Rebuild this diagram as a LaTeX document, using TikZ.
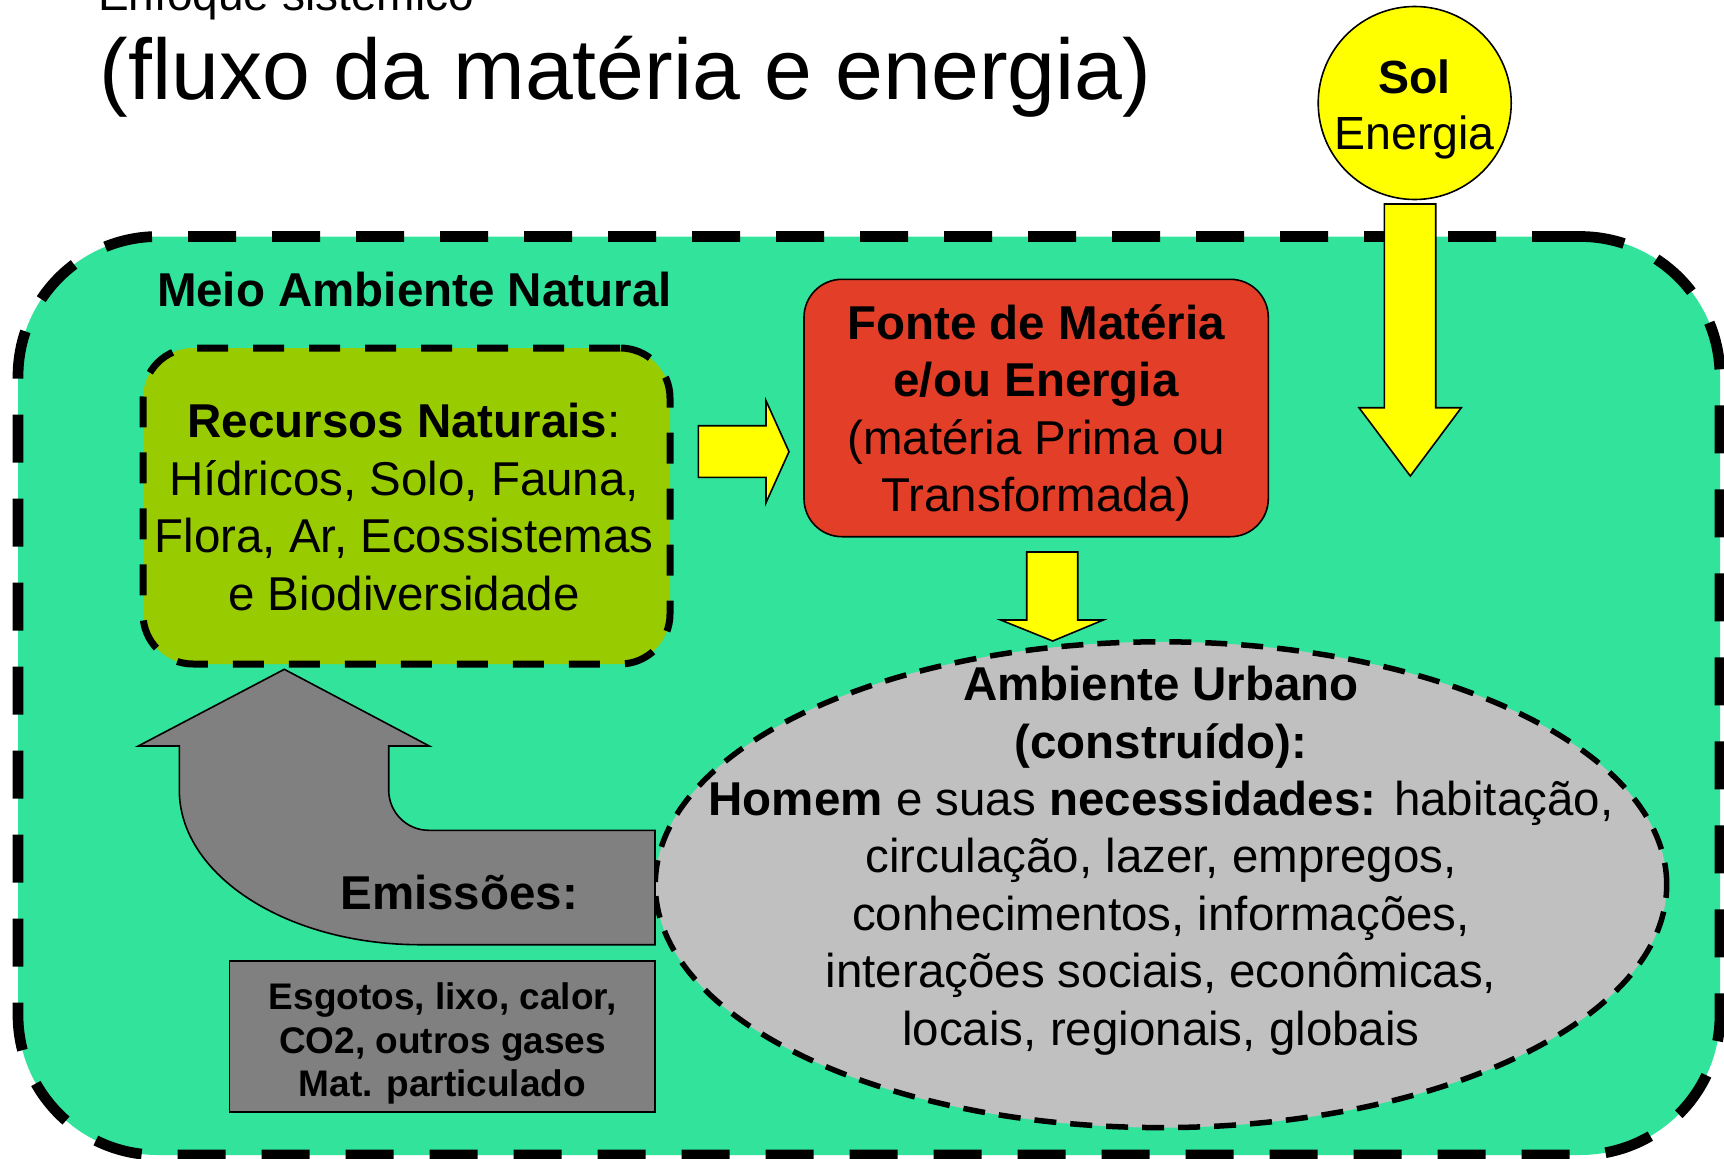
\documentclass[tikz,border=0pt]{standalone}
\usepackage{fontspec}
\setmainfont{Liberation Sans}
\usetikzlibrary{shapes.geometric}
\definecolor{natgreen}{RGB}{50,227,155}
\definecolor{resgreen}{RGB}{153,204,0}
\definecolor{fontered}{RGB}{226,62,40}
\definecolor{sunyellow}{RGB}{255,255,0}
\definecolor{emgray}{RGB}{128,128,128}
\definecolor{urbgray}{RGB}{192,192,192}
\begin{document}
\begin{tikzpicture}[x=1pt,y=-1pt,
  big/.style={font=\fontsize{47.5}{57.4}\selectfont, align=center, inner sep=0pt, outer sep=0pt},
  thinline/.style={draw=black, line width=1.6pt},
  yarrow/.style={fill=sunyellow, draw=black, line width=1.6pt, line join=miter},
  shapebox/.style={inner sep=0pt, outer sep=0pt},
]
\useasboundingbox (0,0) rectangle (1724,1159);

% titles
\node[anchor=base west, inner sep=0pt, font=\fontsize{46}{55}\selectfont] (suptitle) at (98,10) {Enfoque sistêmico};
\node[anchor=base west, inner sep=0pt, font=\fontsize{86}{100}\selectfont] (title) at (99.6,99) {(fluxo da matéria e energia)};

% natural environment
\node[shapebox, draw=black, fill=natgreen, line width=10.7pt, dash pattern=on 48pt off 36pt,
      rounded corners=140pt, minimum width=1702pt, minimum height=918.5pt] (natural) at (869,695.75) {};

% sun
\node[shapebox, circle, thinline, fill=sunyellow, minimum size=193pt] (sun) at (1414.7,103) {};
\node[big, anchor=base, font=\fontsize{46.5}{56}\selectfont] (suntext) at (1414.5,149.3) {\textbf{Sol}\\Energia};
\draw[yarrow] (1384.3,204) -- (1435.7,204) -- (1435.7,407.7) -- (1461.3,407.7) -- (1410.3,476)
  -- (1359,407.7) -- (1384.3,407.7) -- cycle;

% natural resources
\node[shapebox, draw=black, fill=resgreen, line width=7pt, dash pattern=on 31pt off 25pt,
      rounded corners=50pt, minimum width=527pt, minimum height=316pt] (recursos) at (406.5,506) {};

% arrow to source
\draw[yarrow] (698.3,425.7) -- (766,425.7) -- (766,400.7) -- (789,451.7) -- (766,502.7)
  -- (766,477.3) -- (698.3,477.3) -- cycle;

% source box
\node[shapebox, thinline, fill=fontered, rounded corners=38pt, minimum width=464.3pt,
      minimum height=257.4pt] (fonte) at (1036.15,408) {};

% arrow to urban
\draw[yarrow] (1026.7,552) -- (1077.7,552) -- (1077.7,620) -- (1103.3,620) -- (1052.7,641)
  -- (1000.7,620) -- (1026.7,620) -- cycle;

% urban ellipse
\node[shapebox, ellipse, draw=black, fill=urbgray, line width=5.5pt, dash pattern=on 22pt off 14pt,
      minimum width=1011.4pt, minimum height=485.8pt] (urbano) at (1161,884.7) {};

% emissions bent arrow
\draw[fill=emgray, thinline] (284.3,669.3) -- (429.3,746) -- (388.7,746) -- (388.7,790)
  .. controls (388.7,812.3) and (406.6,830.3) .. (428.7,830.3) -- (655,830.3) -- (655,944.7)
  -- (420,944.7) .. controls (287.1,944.7) and (179.3,875.4) .. (179.3,790)
  -- (179.3,746) -- (138.3,746) -- cycle;

% emissions box
\node[shapebox, thinline, fill=emgray, minimum width=425.7pt, minimum height=151pt] (esgotos) at (442.15,1036.2) {};

% texts (anchor=base is the baseline of the last line)
\node[big, anchor=base west] (meiolabel) at (157,306) {\textbf{Meio Ambiente Natural}};
\node[big, anchor=base] (recursostext) at (404,610)
  {\textbf{Recursos Naturais}:\\Hídricos, Solo, Fauna,\\Flora, Ar, Ecossistemas\\e Biodiversidade};
\node[big, anchor=base] (fontetext) at (1036.2,511.7)
  {\textbf{Fonte de Matéria}\\\textbf{e/ou Energia}\\(matéria Prima ou\\Transformada)};
\node[big, anchor=base] (urbtext) at (1161,1045)
  {\textbf{Ambiente Urbano}\\\textbf{(construído):}\\\textbf{Homem} e suas \textbf{necessidades:} habitação,\\circulação, lazer, empregos,\\conhecimentos, informações,\\interações sociais, econômicas,\\locais, regionais, globais};
\node[big, anchor=base] (emtext) at (459.2,909.3) {\textbf{Emissões:}};
\node[anchor=base, align=center, inner sep=0pt, font=\fontsize{37}{43.7}\selectfont\bfseries] (esgtext) at (442.5,1096.7)
  {Esgotos, lixo, calor,\\CO2, outros gases\\Mat. particulado};
\end{tikzpicture}
\end{document}
